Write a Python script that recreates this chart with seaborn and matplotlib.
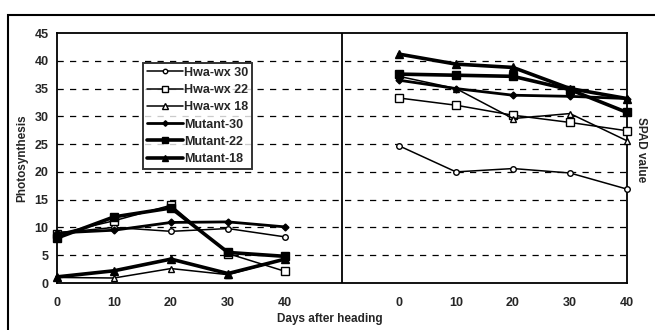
"""
Photosynthesis (left) and SPAD value (right) of Hwa-wx and mutant lines
by days after heading. Saves out.png
"""

import matplotlib.pyplot as plt
import pandas as pd
import seaborn as sns
from matplotlib.patches import Rectangle

sns.set_style("white")
plt.rcParams["font.family"] = ["Liberation Sans", "DejaVu Sans"]
plt.rcParams["font.weight"] = "bold"

days = [0, 10, 20, 30, 40]
series_names = ["Hwa-wx 30", "Hwa-wx 22", "Hwa-wx 18",
                "Mutant-30", "Mutant-22", "Mutant-18"]

# photosynthesis, left panel
photo_hwa30 = [9.0, 10.0, 9.3, 9.8, 8.3]
photo_hwa22 = [8.8, 11.2, 14.0, 5.3, 2.1]
photo_hwa18 = [1.0, 0.9, 2.6, 1.5, 4.3]
photo_mut30 = [9.0, 9.5, 10.9, 11.0, 10.1]
photo_mut22 = [8.1, 11.9, 13.5, 5.5, 4.8]
photo_mut18 = [1.1, 2.2, 4.3, 1.7, 4.3]

# SPAD value, right panel
spad_hwa30 = [24.7, 20.0, 20.6, 19.8, 16.9]
spad_hwa22 = [33.3, 32.0, 30.2, 28.9, 27.4]
spad_hwa18 = [37.2, 35.0, 29.6, 30.5, 25.6]
spad_mut30 = [36.5, 35.0, 33.8, 33.6, 33.2]
spad_mut22 = [37.6, 37.4, 37.2, 34.8, 30.7]
spad_mut18 = [41.2, 39.4, 38.8, 35.0, 33.2]

photo = [photo_hwa30, photo_hwa22, photo_hwa18,
         photo_mut30, photo_mut22, photo_mut18]
spad = [spad_hwa30, spad_hwa22, spad_hwa18,
        spad_mut30, spad_mut22, spad_mut18]

styles = {
    "Hwa-wx 30": dict(marker="o", mfc="white", ms=4.0, lw=1.1),
    "Hwa-wx 22": dict(marker="s", mfc="white", ms=6.0, lw=1.1),
    "Hwa-wx 18": dict(marker="^", mfc="white", ms=5.0, lw=1.1),
    "Mutant-30": dict(marker="D", mfc="black", ms=3.5, lw=2.0),
    "Mutant-22": dict(marker="s", mfc="black", ms=6.0, lw=2.6),
    "Mutant-18": dict(marker="^", mfc="black", ms=5.5, lw=2.6),
}


def main():
    rows = []
    for name, p, s in zip(series_names, photo, spad):
        for d, pv, sv in zip(days, p, s):
            rows.append({"series": name, "panel": "left",
                         "pos": d / 10, "value": pv})
            rows.append({"series": name, "panel": "right",
                         "pos": d / 10 + 6, "value": sv})
    df = pd.DataFrame(rows)

    fig = plt.figure(figsize=(6.55, 3.3), dpi=100)
    ax = fig.add_axes([57 / 655, 1 - 283 / 330, 570 / 655, 250 / 330])

    # dashed grid first so the lines sit on top
    for yv in range(5, 45, 5):
        ax.axhline(yv, color="black", lw=0.9, ls=(0, (5, 5)), zorder=1)
    ax.axvline(5, color="black", lw=1.3, zorder=2)

    for name in series_names:
        st = styles[name]
        for panel in ["left", "right"]:
            sub = df[(df["series"] == name) & (df["panel"] == panel)]
            sns.lineplot(data=sub, x="pos", y="value", ax=ax,
                         color="black", marker=st["marker"],
                         markersize=st["ms"], markerfacecolor=st["mfc"],
                         markeredgecolor="black", markeredgewidth=1.0,
                         linewidth=st["lw"], zorder=3, clip_on=False,
                         label=name if panel == "left" else None,
                         legend=False)

    ax.set_xlim(0, 10)
    ax.set_ylim(0, 45)
    ax.set_yticks(range(0, 50, 5))
    ticks = [d / 10 for d in days] + [d / 10 + 6 for d in days]
    ax.set_xticks(ticks)
    ax.set_xticklabels([str(d) for d in days] * 2)
    ax.tick_params(axis="both", length=0, labelsize=9)
    ax.tick_params(axis="x", pad=10)
    ax.tick_params(axis="y", pad=6)
    for sp in ax.spines.values():
        sp.set_color("black")
        sp.set_linewidth(1.3)

    ax.set_xlabel("")
    ax.set_ylabel("")
    fig.text(22 / 655, 1 - 158 / 330, "Photosynthesis", rotation=90,
             ha="center", va="center", fontsize=8.5, fontweight="bold")
    fig.text(330 / 655, 1 - 319 / 330, "Days after heading",
             ha="center", va="center", fontsize=8.5, fontweight="bold")
    fig.text(641 / 655, 1 - 150 / 330, "SPAD value", rotation=270,
             ha="center", va="center", fontsize=8.5, fontweight="bold")

    handles, labels = ax.get_legend_handles_labels()
    leg = ax.legend(handles, labels, loc="upper left",
                    bbox_to_anchor=(0.151, 0.88), borderaxespad=0,
                    fontsize=9, handlelength=2.9, handletextpad=0.1,
                    labelspacing=0.42, frameon=True, fancybox=False,
                    borderpad=0.3, markerscale=0.8)
    leg.get_frame().set_edgecolor("black")
    leg.get_frame().set_linewidth(1.4)
    leg.set_zorder(5)

    # outer frame of the figure
    fig.patches.append(Rectangle((8 / 655, -0.1), 1.2, 0.1 + 1 - 15 / 330,
                                 transform=fig.transFigure, fill=False,
                                 lw=1.5, edgecolor="black"))

    fig.savefig("out.png", dpi=100)


if __name__ == "__main__":
    main()
